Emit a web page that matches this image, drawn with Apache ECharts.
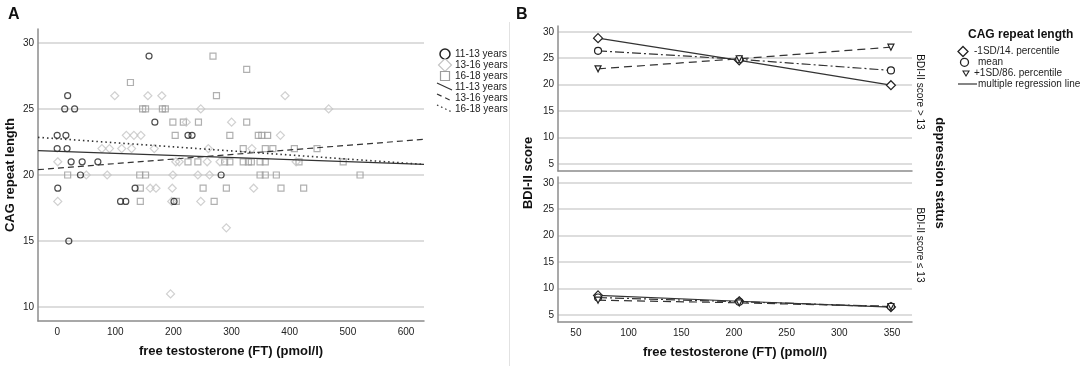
<!DOCTYPE html>
<html>
<head>
<meta charset="utf-8">
<script src="https://cdn.jsdelivr.net/npm/echarts@6/dist/echarts.min.js"></script>
<style>
  html, body { margin: 0; padding: 0; background: #fff; }
  #chart { width: 1084px; height: 366px; }
</style>
</head>
<body>
<div id="chart"></div>
<script>
// ---- panel A: free testosterone vs CAG repeat length, by age group ----
var ageGroups = ["11-13 years", "13-16 years", "16-18 years"];

// [FT (pmol/l), CAG repeat length]
var pts1113 = [
  [158, 29], [18, 26], [13, 25], [30, 25], [168, 24], [0, 23], [15, 23],
  [225, 23], [232, 23], [0, 22], [17, 22], [24, 21], [43, 21], [70, 21],
  [40, 20], [282, 20], [1, 19], [134, 19], [109, 18], [118, 18], [201, 18],
  [20, 15]
];
var pts1316 = [
  [99, 26], [156, 26], [180, 26], [392, 26], [247, 25], [467, 25],
  [222, 24], [300, 24], [119, 23], [132, 23], [144, 23], [384, 23],
  [77, 22], [90, 22], [111, 22], [128, 22], [167, 22], [260, 22], [335, 22],
  [1, 21], [204, 21], [210, 21], [258, 21], [280, 21], [411, 21],
  [50, 20], [86, 20], [199, 20], [242, 20], [262, 20],
  [160, 19], [170, 19], [198, 19], [338, 19],
  [1, 18], [197, 18], [247, 18], [291, 16], [195, 11]
];
var pts1618 = [
  [268, 29], [326, 28], [126, 27], [274, 26],
  [147, 25], [152, 25], [181, 25], [186, 25],
  [199, 24], [217, 24], [243, 24], [326, 24],
  [203, 23], [297, 23], [346, 23], [352, 23], [362, 23],
  [320, 22], [358, 22], [371, 22], [408, 22], [447, 22],
  [225, 21], [242, 21], [288, 21], [297, 21], [320, 21], [329, 21], [334, 21],
  [349, 21], [358, 21], [416, 21], [492, 21],
  [18, 20], [142, 20], [152, 20], [349, 20], [358, 20], [377, 20], [521, 20],
  [143, 19], [251, 19], [291, 19], [385, 19], [424, 19],
  [143, 18], [205, 18], [270, 18]
];

// fit lines, read at both ends of the x axis
var fitX = [-33, 631];
var fit1113 = [21.85, 20.8];
var fit1316 = [20.4, 22.7];
var fit1618 = [22.85, 20.8];

var ticksAX = [0, 100, 200, 300, 400, 500, 600];
var ticksAY = [10, 15, 20, 25, 30];

// ---- panel B: BDI-II score vs FT by CAG level, split by depression status ----
var cagLevels = ["-1SD/14. percentile", "mean", "+1SD/86. percentile"];
var bdiFT = [71, 205, 349];
var highLow = [28.8, 24.6, 19.9];
var highMean = [26.4, 24.8, 22.7];
var highHigh = [23.0, 24.9, 27.1];
var lowLow = [8.7, 7.6, 6.5];
var lowMean = [8.3, 7.5, 6.6];
var lowHigh = [7.8, 7.3, 6.6];

var ticksBX = [50, 100, 150, 200, 250, 300, 350];
var ticksBY = [5, 10, 15, 20, 25, 30];

var FONT = "Liberation Sans";

function pair(xs, ys) {
  return xs.map(function (x, i) { return [x, ys[i]]; });
}

var tickLabel = { fontFamily: FONT, fontSize: 10, color: "#222" };
var gridLine = { show: true, lineStyle: { color: "#d2d2d2", width: 1.5 } };
var axisLn = { show: true, onZero: false, lineStyle: { color: "#8c8c8c", width: 1.5 } };
var titleStyle = { fontFamily: FONT, fontSize: 13, fontWeight: "bold", color: "#111" };

function valueX(grid, min, max, ticks, showLabels, name) {
  return {
    type: "value", gridIndex: grid, min: min, max: max,
    axisLine: axisLn,
    axisTick: { show: false, customValues: ticks },
    axisLabel: Object.assign({ show: showLabels, margin: 6, customValues: ticks }, tickLabel),
    splitLine: { show: false },
    name: name || "", nameLocation: "middle", nameGap: 24, nameTextStyle: titleStyle
  };
}
function valueY(grid, min, max, ticks, name) {
  return {
    type: "value", gridIndex: grid, min: min, max: max,
    axisLine: axisLn,
    axisTick: { show: false, customValues: ticks },
    axisLabel: Object.assign({ margin: 4, customValues: ticks }, tickLabel),
    splitLine: gridLine,
    name: name || "", nameLocation: "middle", nameGap: 21, nameTextStyle: titleStyle
  };
}

function scatter(name, data, symbol, size, color) {
  return {
    name: name, type: "scatter", xAxisIndex: 0, yAxisIndex: 0,
    data: data, symbol: symbol, symbolSize: size,
    itemStyle: { color: "rgba(255,255,255,0)", borderColor: color, borderWidth: 1.2 }
  };
}
function fitLine(name, ys, dash, width) {
  return {
    name: name, type: "line", xAxisIndex: 0, yAxisIndex: 0,
    data: pair(fitX, ys), showSymbol: false, silent: true,
    lineStyle: { color: "#333", width: width, type: dash }
  };
}
function bLine(name, grid, ys, symbol, size, rot, dash) {
  return {
    name: name, type: "line", xAxisIndex: grid, yAxisIndex: grid,
    data: pair(bdiFT, ys), symbol: symbol, symbolSize: size, symbolRotate: rot,
    itemStyle: { color: "#fff", borderColor: "#222", borderWidth: 1.2 },
    lineStyle: { color: "#333", width: 1.2, type: dash }
  };
}

// legend graphics
var legendA = [];
var rowsA = [54, 65, 76, 87, 98, 109];
var labelsA = ageGroups.concat(ageGroups);
legendA.push({ type: "circle", shape: { cx: 445, cy: rowsA[0], r: 5 },
  style: { fill: "none", stroke: "#222", lineWidth: 1.5 } });
legendA.push({ type: "polygon", shape: { points: [[445, 58.5], [451.5, 65], [445, 71.5], [438.5, 65]] },
  style: { fill: "none", stroke: "#c4c4c4", lineWidth: 1.2 } });
legendA.push({ type: "rect", shape: { x: 440.5, y: 71.5, width: 9, height: 9 },
  style: { fill: "none", stroke: "#9c9c9c", lineWidth: 1.2 } });
var dashesA = [null, [5, 4], [1.5, 3]];
for (var k = 0; k < 3; k++) {
  var yy = rowsA[k + 3];
  legendA.push({ type: "line", shape: { x1: 437, y1: yy - 4, x2: 452, y2: yy + 3 },
    style: { stroke: "#333", lineWidth: 1.2, lineDash: dashesA[k] } });
}
labelsA.forEach(function (t, i) {
  legendA.push({ type: "text", x: 455, y: rowsA[i],
    style: { text: t, fontFamily: FONT, fontSize: 10, fill: "#222",
      textAlign: "left", textVerticalAlign: "middle", align: "left", verticalAlign: "middle" } });
});

var legendB = [
  { type: "text", x: 968, y: 35, style: { text: "CAG repeat length", fontFamily: FONT, fontSize: 12,
    fontWeight: "bold", fill: "#111", textVerticalAlign: "middle", verticalAlign: "middle" } },
  { type: "polygon", shape: { points: [[963, 46.5], [968, 51.5], [963, 56.5], [958, 51.5]] },
    style: { fill: "none", stroke: "#222", lineWidth: 1.3 } },
  { type: "circle", shape: { cx: 964.5, cy: 62.3, r: 4 }, style: { fill: "none", stroke: "#222", lineWidth: 1.3 } },
  { type: "polygon", shape: { points: [[963, 71], [969, 71], [966, 76]] },
    style: { fill: "none", stroke: "#222", lineWidth: 1.1 } },
  { type: "line", shape: { x1: 958, y1: 84, x2: 977, y2: 84 }, style: { stroke: "#333", lineWidth: 1.2 } }
];
var textsB = [[974, 51.7, cagLevels[0]], [978, 62.3, cagLevels[1]], [974, 73.3, cagLevels[2]],
  [978, 84, "multiple regression line"]];
textsB.forEach(function (t) {
  legendB.push({ type: "text", x: t[0], y: t[1], style: { text: t[2], fontFamily: FONT, fontSize: 10,
    fill: "#222", textVerticalAlign: "middle", verticalAlign: "middle" } });
});

function vText(x, y, text, size, weight, rot) {
  return { type: "text", x: x, y: y, rotation: rot,
    style: { text: text, fontFamily: FONT, fontSize: size, fontWeight: weight, fill: "#111",
      textAlign: "center", textVerticalAlign: "middle", align: "center", verticalAlign: "middle" } };
}

var option = {
  animation: false,
  backgroundColor: "#fff",
  grid: [
    { left: 38, top: 29, width: 386, height: 292 },
    { left: 558, top: 26, width: 354, height: 145 },
    { left: 558, top: 177, width: 354, height: 145 }
  ],
  xAxis: [
    valueX(0, -33, 631, ticksAX, true, "free testosterone (FT) (pmol/l)"),
    valueX(1, 33, 369, ticksBX, false),
    valueX(2, 33, 369, ticksBX, true, "free testosterone (FT) (pmol/l)")
  ],
  yAxis: [
    valueY(0, 8.95, 31.05, ticksAY, "CAG repeat length"),
    valueY(1, 3.67, 31.1, ticksBY),
    valueY(2, 3.67, 31.1, ticksBY)
  ],
  series: [
    scatter(ageGroups[2], pts1618, "rect", 6, "#9c9c9c"),
    scatter(ageGroups[1], pts1316, "diamond", 8, "#c4c4c4"),
    scatter(ageGroups[0], pts1113, "circle", 6, "#222"),
    fitLine(ageGroups[0], fit1113, "solid", 1.2),
    fitLine(ageGroups[1], fit1316, [6, 4], 1.2),
    fitLine(ageGroups[2], fit1618, [1.5, 3], 1.6),
    bLine(cagLevels[0], 1, highLow, "diamond", 9, 0, "solid"),
    bLine(cagLevels[1], 1, highMean, "circle", 7, 0, [9, 3, 2, 3]),
    bLine(cagLevels[2], 1, highHigh, "triangle", 6, 180, [8, 5]),
    bLine(cagLevels[0], 2, lowLow, "diamond", 9, 0, "solid"),
    bLine(cagLevels[1], 2, lowMean, "circle", 7, 0, [9, 3, 2, 3]),
    bLine(cagLevels[2], 2, lowHigh, "triangle", 6, 180, [8, 5])
  ],
  graphic: [
    { type: "text", x: 8, y: 15, style: { text: "A", fontFamily: FONT, fontSize: 16, fontWeight: "bold",
      fill: "#111", textVerticalAlign: "middle", verticalAlign: "middle" } },
    { type: "text", x: 516, y: 15, style: { text: "B", fontFamily: FONT, fontSize: 16, fontWeight: "bold",
      fill: "#111", textVerticalAlign: "middle", verticalAlign: "middle" } },
    { type: "line", shape: { x1: 509.5, y1: 22, x2: 509.5, y2: 366 }, style: { stroke: "#e2e2e2", lineWidth: 1 } },
    vText(528, 173, "BDI-II score", 13, "bold", Math.PI / 2),
    vText(920, 92, "BDI-II score > 13", 10, "normal", -Math.PI / 2),
    vText(920, 245, "BDI-II score \u2264 13", 10, "normal", -Math.PI / 2),
    vText(940, 173, "depression status", 13, "bold", -Math.PI / 2)
  ].concat(legendA, legendB)
};

var chart = echarts.init(document.getElementById("chart"));
chart.setOption(option);
</script>
</body>
</html>
